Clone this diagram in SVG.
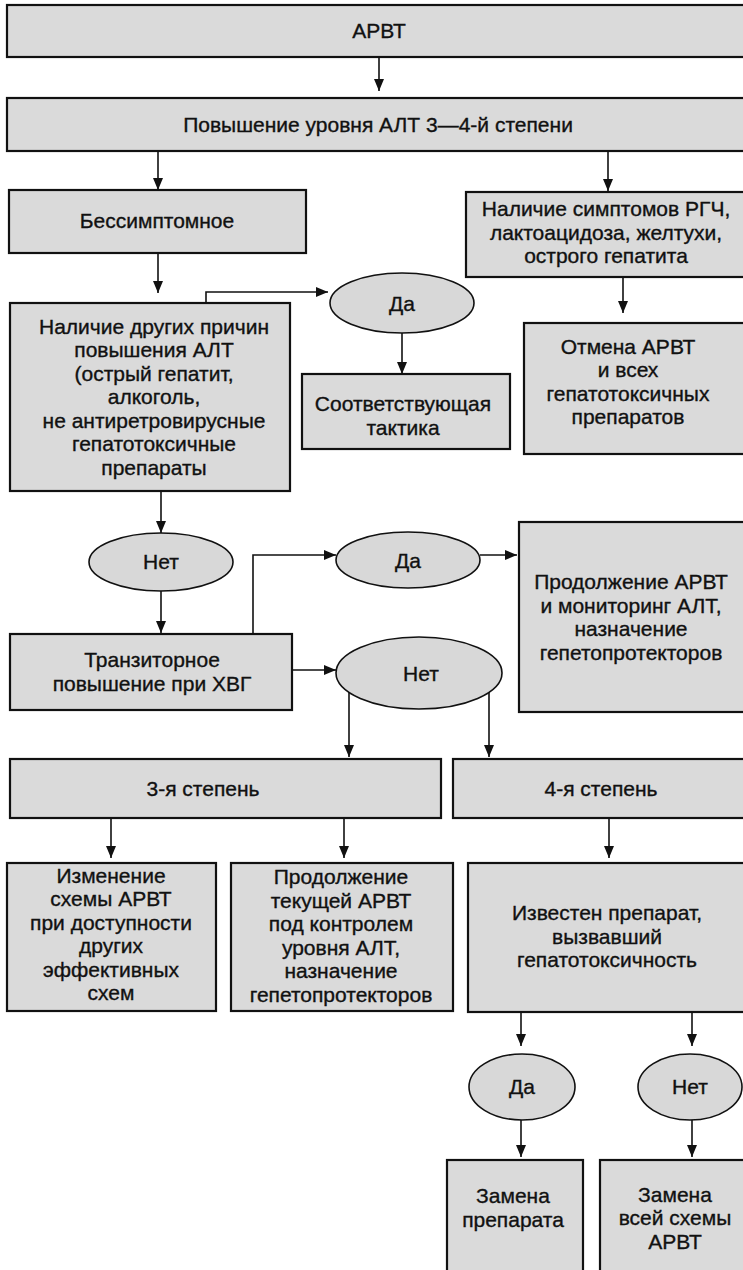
<svg xmlns="http://www.w3.org/2000/svg" width="743" height="1270" viewBox="0 0 743 1270">
  <style>
    .box { fill: #dadada; stroke: #111; stroke-width: 2.2; }
    .oval { fill: #d8d8d8; stroke: #111; stroke-width: 1.6; }
    .t { font-family: "Liberation Sans", Arial, sans-serif; font-size: 21px; fill: #111; stroke: #111; stroke-width: 0.35; text-anchor: middle; }
    .c { fill: none; stroke: #111; stroke-width: 1.6; marker-end: url(#arr); }
  </style>
  <defs>
    <marker id="arr" markerUnits="userSpaceOnUse" markerWidth="12" markerHeight="12" viewBox="0 0 12 10" refX="12" refY="5" orient="auto">
      <path d="M0,0 L12,5 L0,10 z" fill="#111"/>
    </marker>
  </defs>
  <rect width="743" height="1270" fill="#fff"/>

  <g id="n-arvt">
    <rect class="box" x="7" y="5" width="745" height="52"/>
    <text class="t" x="379" y="38">АРВТ</text>
  </g>
  <g id="n-alt-rise">
    <rect class="box" x="7" y="98" width="745" height="53"/>
    <text class="t" x="378" y="132">Повышение уровня АЛТ 3—4-й степени</text>
  </g>
  <g id="n-asymptomatic">
    <rect class="box" x="9" y="190" width="297" height="63"/>
    <text class="t" x="157" y="228">Бессимптомное</text>
  </g>
  <g id="n-symptoms">
    <rect class="box" x="466" y="192" width="290" height="85"/>
    <text class="t" x="606" y="216">Наличие симптомов РГЧ,</text>
    <text class="t" x="606" y="239.5">лактоацидоза, желтухи,</text>
    <text class="t" x="606" y="263">острого гепатита</text>
  </g>
  <g id="n-other-causes">
    <rect class="box" x="10" y="303" width="280" height="188"/>
    <text class="t" x="154" y="333.5">Наличие других причин</text>
    <text class="t" x="154" y="357">повышения АЛТ</text>
    <text class="t" x="154" y="380.5">(острый гепатит,</text>
    <text class="t" x="154" y="404">алкоголь,</text>
    <text class="t" x="154" y="427.5">не антиретровирусные</text>
    <text class="t" x="154" y="451">гепатотоксичные</text>
    <text class="t" x="154" y="474.5">препараты</text>
  </g>
  <g id="n-yes1">
    <ellipse class="oval" cx="402" cy="303" rx="72" ry="30"/>
    <text class="t" x="402" y="311">Да</text>
  </g>
  <g id="n-tactics">
    <rect class="box" x="302" y="374" width="208" height="75"/>
    <text class="t" x="403" y="411">Соответствующая</text>
    <text class="t" x="403" y="434.5">тактика</text>
  </g>
  <g id="n-stop-arvt">
    <rect class="box" x="524" y="323" width="230" height="131"/>
    <text class="t" x="628" y="353.5">Отмена АРВТ</text>
    <text class="t" x="628" y="377">и всех</text>
    <text class="t" x="628" y="400.5">гепатотоксичных</text>
    <text class="t" x="628" y="424">препаратов</text>
  </g>
  <g id="n-no1">
    <ellipse class="oval" cx="161" cy="562" rx="72" ry="29"/>
    <text class="t" x="161" y="569">Нет</text>
  </g>
  <g id="n-yes2">
    <ellipse class="oval" cx="408" cy="560" rx="72" ry="28"/>
    <text class="t" x="408" y="568">Да</text>
  </g>
  <g id="n-continue-monitor">
    <rect class="box" x="519" y="522" width="235" height="190"/>
    <text class="t" x="631" y="589">Продолжение АРВТ</text>
    <text class="t" x="631" y="612.5">и мониторинг АЛТ,</text>
    <text class="t" x="631" y="636">назначение</text>
    <text class="t" x="631" y="659.5">гепетопротекторов</text>
  </g>
  <g id="n-transient">
    <rect class="box" x="10" y="634" width="282" height="76"/>
    <text class="t" x="152" y="667">Транзиторное</text>
    <text class="t" x="152" y="690.5">повышение при ХВГ</text>
  </g>
  <g id="n-no2">
    <ellipse class="oval" cx="419" cy="673" rx="83" ry="36"/>
    <text class="t" x="421" y="681">Нет</text>
  </g>
  <g id="n-grade3">
    <rect class="box" x="10" y="759" width="431" height="59"/>
    <text class="t" x="203" y="796">3-я степень</text>
  </g>
  <g id="n-grade4">
    <rect class="box" x="453" y="759" width="300" height="59"/>
    <text class="t" x="601" y="796">4-я степень</text>
  </g>
  <g id="n-change-scheme">
    <rect class="box" x="7" y="863" width="209" height="148"/>
    <text class="t" x="111" y="882.5">Изменение</text>
    <text class="t" x="111" y="906">схемы АРВТ</text>
    <text class="t" x="111" y="929.5">при доступности</text>
    <text class="t" x="111" y="953">других</text>
    <text class="t" x="111" y="976.5">эффективных</text>
    <text class="t" x="111" y="1000">схем</text>
  </g>
  <g id="n-continue-current">
    <rect class="box" x="231" y="863" width="222" height="148"/>
    <text class="t" x="341" y="884">Продолжение</text>
    <text class="t" x="341" y="907.5">текущей АРВТ</text>
    <text class="t" x="341" y="931">под контролем</text>
    <text class="t" x="341" y="954.5">уровня АЛТ,</text>
    <text class="t" x="341" y="978">назначение</text>
    <text class="t" x="341" y="1001.5">гепетопротекторов</text>
  </g>
  <g id="n-known-drug">
    <rect class="box" x="468" y="863" width="285" height="149"/>
    <text class="t" x="607" y="920">Известен препарат,</text>
    <text class="t" x="607" y="943.5">вызвавший</text>
    <text class="t" x="607" y="967">гепатотоксичность</text>
  </g>
  <g id="n-yes3">
    <ellipse class="oval" cx="522" cy="1087" rx="53" ry="33"/>
    <text class="t" x="522" y="1094">Да</text>
  </g>
  <g id="n-no3">
    <ellipse class="oval" cx="690" cy="1087" rx="52" ry="33"/>
    <text class="t" x="690" y="1094">Нет</text>
  </g>
  <g id="n-replace-drug">
    <rect class="box" x="447" y="1160" width="136" height="130"/>
    <text class="t" x="513" y="1203">Замена</text>
    <text class="t" x="513" y="1226.5">препарата</text>
  </g>
  <g id="n-replace-scheme">
    <rect class="box" x="600" y="1160" width="155" height="130"/>
    <text class="t" x="675" y="1201.5">Замена</text>
    <text class="t" x="675" y="1225">всей схемы</text>
    <text class="t" x="675" y="1248.5">АРВТ</text>
  </g>

  <g id="connectors">
    <path class="c" d="M379,57 V91"/>
    <path class="c" d="M158,151 V190"/>
    <path class="c" d="M608,151 V191"/>
    <path class="c" d="M158,253 V293"/>
    <path class="c" d="M206,303 V292 H328"/>
    <path class="c" d="M402,333 V374"/>
    <path class="c" d="M623,277 V313"/>
    <path class="c" d="M161,491 V533"/>
    <path class="c" d="M161,591 V633"/>
    <path class="c" d="M253,634 V555 H336"/>
    <path class="c" d="M480,555 H517"/>
    <path class="c" d="M292,670 H336"/>
    <path class="c" d="M349,692 V757"/>
    <path class="c" d="M489,692 V757"/>
    <path class="c" d="M111,818 V858"/>
    <path class="c" d="M344,818 V858"/>
    <path class="c" d="M609,818 V858"/>
    <path class="c" d="M521,1012 V1046"/>
    <path class="c" d="M692,1012 V1046"/>
    <path class="c" d="M521,1120 V1157"/>
    <path class="c" d="M692,1120 V1157"/>
  </g>
</svg>
